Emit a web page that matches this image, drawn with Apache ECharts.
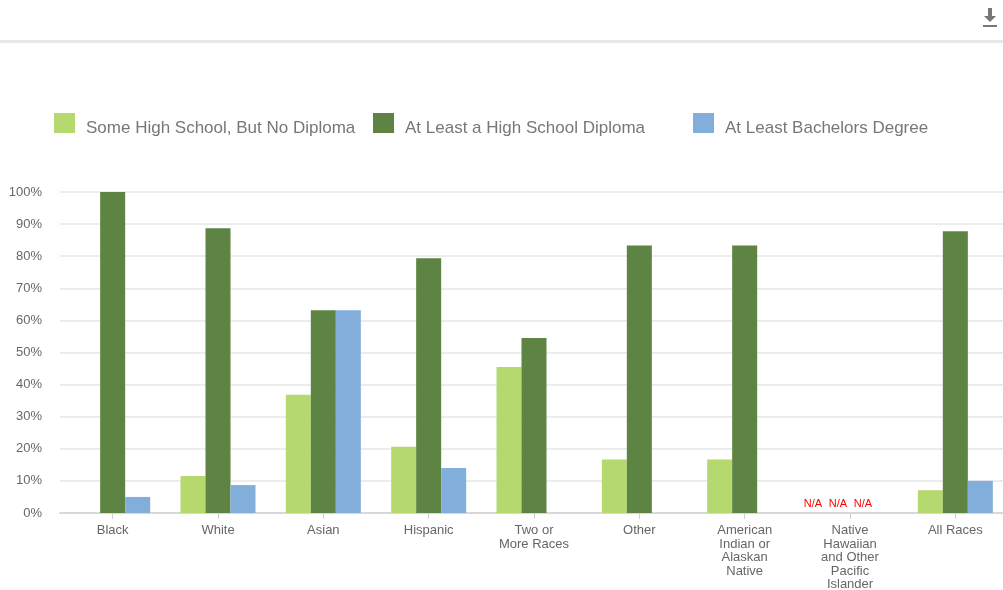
<!DOCTYPE html>
<html>
<head>
<meta charset="utf-8">
<script src="https://cdn.jsdelivr.net/npm/echarts@6/dist/echarts.min.js"></script>
<style>
html,body{margin:0;padding:0;background:#fff;}
#chart{width:1003px;height:590px;}
</style>
</head>
<body>
<div id="chart"></div>
<script>
var categories = ["Black", "White", "Asian", "Hispanic", "Two or\nMore Races", "Other", "American\nIndian or\nAlaskan\nNative", "Native\nHawaiian\nand Other\nPacific\nIslander", "All Races"];
var seriesNames = ["Some High School, But No Diploma", "At Least a High School Diploma", "At Least Bachelors Degree"];
var someHighSchool = [0, 11.5, 36.8, 20.6, 45.5, 16.7, 16.7, null, 7.1];
var highSchoolDiploma = [100, 88.7, 63.2, 79.4, 54.5, 83.3, 83.3, null, 87.8];
var bachelors = [5, 8.7, 63.2, 14.0, 0, 0, 0, null, 10.0];
var yTicks = [0, 10, 20, 30, 40, 50, 60, 70, 80, 90, 100];
var colors = ["#b6d96f", "#5d8442", "#82aedb"];

var FONT = "'Liberation Sans', Arial, sans-serif";

function buildData(arr) {
  return arr.map(function (v) {
    if (v === null) {
      return {
        value: 0,
        label: {
          show: true, position: 'top', distance: 4, offset: [-12, 0],
          formatter: 'N/A', color: '#ff0000', fontSize: 11, fontFamily: FONT
        }
      };
    }
    return v;
  });
}

var allSeries = [someHighSchool, highSchoolDiploma, bachelors].map(function (arr, i) {
  return {
    name: seriesNames[i],
    type: 'bar',
    data: buildData(arr),
    barWidth: 25,
    barGap: '0%',
    itemStyle: { color: colors[i] },
    emphasis: { disabled: true }
  };
});

var legendLefts = [49, 368, 688];
var legends = seriesNames.map(function (n, i) {
  return {
    data: [n],
    left: legendLefts[i],
    top: 108,
    orient: 'horizontal',
    icon: 'rect',
    itemWidth: 21,
    itemHeight: 20,
    selectedMode: false,
    formatter: '{t|{name}}',
    textStyle: {
      color: '#777', fontSize: 17, fontFamily: FONT,
      rich: { t: { color: '#777', fontSize: 17, fontFamily: FONT, padding: [10, 0, 0, 6] } }
    }
  };
});

var chart = echarts.init(document.getElementById('chart'), null, { renderer: 'canvas' });
chart.setOption({
  animation: false,
  backgroundColor: '#fff',
  textStyle: { fontFamily: FONT },
  legend: legends,
  grid: { left: 60, width: 948, top: 192, bottom: 77, containLabel: false, outerBoundsMode: 'none' },
  xAxis: {
    type: 'category',
    data: categories,
    axisLine: { lineStyle: { color: '#d8d8d8', width: 2 } },
    axisTick: { show: true, alignWithLabel: true, length: 6, lineStyle: { color: '#d0d0d0', width: 1 } },
    axisLabel: { color: '#666', fontSize: 13, lineHeight: 13.5, margin: 11, interval: 0, fontFamily: FONT }
  },
  yAxis: {
    type: 'value',
    min: yTicks[0],
    max: yTicks[yTicks.length - 1],
    interval: 10,
    axisLine: { show: false },
    axisTick: { show: false },
    axisLabel: { color: '#666', fontSize: 13, margin: 18, formatter: '{value}%', fontFamily: FONT },
    splitLine: { lineStyle: { color: '#e6e6e6', width: 1.5 } }
  },
  series: allSeries,
  graphic: [
    { type: 'rect', silent: true, shape: { x: 0, y: 40, width: 1003, height: 3 }, style: { fill: '#e8e8e8' } },
    { type: 'polygon', silent: true, style: { fill: '#777' },
      shape: { points: [[988, 8], [992, 8], [992, 16], [996, 16], [990, 22], [984, 16], [988, 16]] } },
    { type: 'rect', silent: true, shape: { x: 983, y: 25, width: 14, height: 2 }, style: { fill: '#777' } }
  ]
});
</script>
</body>
</html>
